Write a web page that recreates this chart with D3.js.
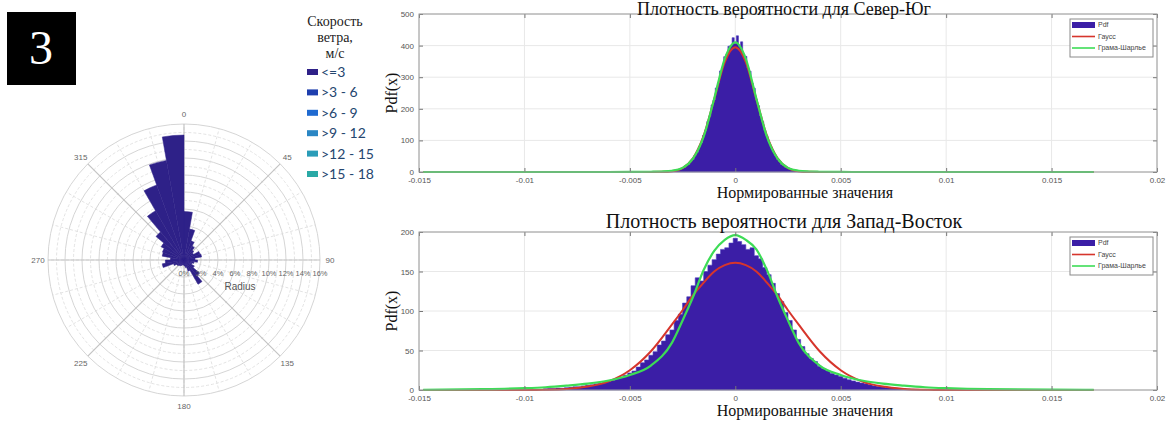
<!DOCTYPE html>
<html lang="ru">
<head>
	<meta charset="utf-8">
	<title>Роза ветров и плотности вероятности</title>
	<script type="text/javascript" src="https://d3js.org/d3.v7.min.js"></script>
	<style type="text/css">
		body { margin: 0; background: #fff; }
	</style>
</head>
<body>
	<script type="text/javascript">
		//Size of the whole picture
		var w = 1168;
		var h = 421;

		//Wind rose: 36 sectors of 10 degrees, share of time in %
		var roseSectors = [0, 10, 20, 30, 40, 50, 60, 70, 80, 90, 100, 110, 120, 130, 140, 150, 160, 170,
			180, 190, 200, 210, 220, 230, 240, 250, 260, 270, 280, 290, 300, 310, 320, 330, 340, 350];
		var roseValues = [5.7, 3.7, 2.4, 1.9, 1.5, 1.3, 2.0, 2.1, 1.3, 1.6, 1.2, 1.0, 1.4, 2.4, 3.3, 1.4, 0.9, 0.7,
			0.6, 0.6, 0.7, 0.8, 0.9, 1.0, 1.3, 2.6, 2.2, 1.6, 2.6, 2.7, 3.1, 4.3, 6.7, 9.4, 11.9, 14.7];
		var roseAngleLabels = [0, 45, 90, 135, 180, 225, 270, 315];
		var roseRadiusTicks = [0, 2, 4, 6, 8, 10, 12, 14, 16];

		//Wind speed legend
		var speedClasses = ["<=3", ">3 - 6", ">6 - 9", ">9 - 12", ">12 - 15", ">15 - 18"];
		var speedColors = ["#2e2188", "#1e3fae", "#1f6ad0", "#2a86c4", "#2a9cb8", "#2aa9a6"];

		//Shared x axis of both density plots
		var xTicks = [-0.015, -0.01, -0.005, 0, 0.005, 0.01, 0.015, 0.02];
		var xTickLabels = ["-0.015", "-0.01", "-0.005", "0", "0.005", "0.01", "0.015", "0.02"];

		//North-South: histogram bins of width 0.0001, centres from -0.0035 to 0.0035
		var nsBinWidth = 0.0001;
		var nsBinCenters = [-0.0035, -0.0034, -0.0033, -0.0032, -0.0031, -0.0030, -0.0029, -0.0028, -0.0027, -0.0026,
			-0.0025, -0.0024, -0.0023, -0.0022, -0.0021, -0.0020, -0.0019, -0.0018, -0.0017, -0.0016,
			-0.0015, -0.0014, -0.0013, -0.0012, -0.0011, -0.0010, -0.0009, -0.0008, -0.0007, -0.0006,
			-0.0005, -0.0004, -0.0003, -0.0002, -0.0001, 0, 0.0001, 0.0002, 0.0003, 0.0004,
			0.0005, 0.0006, 0.0007, 0.0008, 0.0009, 0.0010, 0.0011, 0.0012, 0.0013, 0.0014,
			0.0015, 0.0016, 0.0017, 0.0018, 0.0019, 0.0020, 0.0021, 0.0022, 0.0023, 0.0024,
			0.0025, 0.0026, 0.0027, 0.0028, 0.0029, 0.0030, 0.0031, 0.0032, 0.0033, 0.0034, 0.0035];
		var nsPdf = [0.4, 0.5, 0.9, 1.0, 1.8, 2.1, 3.5, 4.2, 6.8, 7.9,
			11.6, 14.2, 20.5, 24.1, 33.5, 39.8, 53.1, 62.4, 80.2, 92.5,
			116, 131, 160, 176, 212, 228, 266, 282, 320, 331,
			365, 372, 398, 401, 425, 407, 431, 398, 412, 372,
			366, 330, 319, 281, 265, 229, 210, 178, 159, 132,
			115, 93, 79, 63, 52, 40, 33, 24, 20, 14,
			11, 8, 6, 4.4, 3.1, 2.2, 1.5, 1.1, 0.8, 0.5, 0.3];
		var nsCurveX = [-0.0148, -0.01, -0.006, -0.005, -0.004, -0.0035, -0.003, -0.0025, -0.002, -0.0015, -0.001, -0.0005,
			0, 0.0005, 0.001, 0.0015, 0.002, 0.0025, 0.003, 0.0035, 0.004, 0.005, 0.006, 0.01, 0.017];
		var nsGauss = [0, 0, 0, 0, 0.1, 0.45, 2.7, 12.6, 44, 115, 230, 348,
			395, 348, 230, 115, 44, 12.6, 2.7, 0.45, 0.1, 0, 0, 0, 0];
		var nsGram = [0, 0, 0, 0.2, 0.8, 1.6, 4, 13, 43, 112, 232, 358,
			410, 358, 232, 112, 43, 13, 4, 1.6, 0.8, 0.2, 0, 0, 0];
		var nsYTicks = [0, 100, 200, 300, 400, 500];

		//West-East: histogram bins of width 0.0002, centres from -0.009 to 0.009
		var weBinWidth = 0.0002;
		var weBinCenters = [-0.0090, -0.0088, -0.0086, -0.0084, -0.0082, -0.0080, -0.0078, -0.0076, -0.0074, -0.0072,
			-0.0070, -0.0068, -0.0066, -0.0064, -0.0062, -0.0060, -0.0058, -0.0056, -0.0054, -0.0052,
			-0.0050, -0.0048, -0.0046, -0.0044, -0.0042, -0.0040, -0.0038, -0.0036, -0.0034, -0.0032,
			-0.0030, -0.0028, -0.0026, -0.0024, -0.0022, -0.0020, -0.0018, -0.0016, -0.0014, -0.0012,
			-0.0010, -0.0008, -0.0006, -0.0004, -0.0002, 0, 0.0002, 0.0004, 0.0006, 0.0008,
			0.0010, 0.0012, 0.0014, 0.0016, 0.0018, 0.0020, 0.0022, 0.0024, 0.0026, 0.0028,
			0.0030, 0.0032, 0.0034, 0.0036, 0.0038, 0.0040, 0.0042, 0.0044, 0.0046, 0.0048,
			0.0050, 0.0052, 0.0054, 0.0056, 0.0058, 0.0060, 0.0062, 0.0064, 0.0066, 0.0068,
			0.0070, 0.0072, 0.0074, 0.0076, 0.0078, 0.0080, 0.0082, 0.0084, 0.0086, 0.0088, 0.0090];
		var wePdf = [1.5, 1.8, 2.0, 2.4, 2.2, 3.0, 3.4, 4.1, 4.0, 5.2,
			6.0, 6.5, 7.8, 8.2, 9.5, 10.8, 12.5, 14.0, 16.2, 18.8,
			21.5, 24.0, 29.0, 34.5, 38.0, 44.0, 48.5, 57.0, 62.0, 70.0,
			76.0, 88.0, 96.0, 110, 118, 132, 142, 138, 150, 158,
			165, 172, 178, 180, 186, 192, 188, 184, 178, 180,
			170, 166, 155, 146, 135, 122, 112, 98, 88, 76,
			64, 55, 46, 40, 36, 30, 27, 24, 21, 19,
			17, 15, 13, 11.5, 10, 8.8, 7.8, 6.5, 5.2, 4.5,
			3.8, 3.0, 2.6, 2.2, 1.8, 1.5, 1.2, 1.0, 0.8, 0.6, 0.5];
		var weCurveX = [-0.0148, -0.012, -0.01, -0.009, -0.008, -0.007, -0.006, -0.005, -0.004, -0.003, -0.0025, -0.002,
			-0.0015, -0.001, -0.0005, 0, 0.0005, 0.001, 0.0015, 0.002, 0.0025, 0.003, 0.004, 0.005,
			0.006, 0.007, 0.008, 0.009, 0.01, 0.012, 0.017];
		var weGauss = [0, 0, 0.1, 0.4, 1.4, 4.3, 11, 25, 49, 83, 101, 120,
			136, 150, 158, 161, 158, 150, 136, 120, 101, 83, 49, 25,
			11, 4.3, 1.4, 0.4, 0.1, 0, 0];
		var weGram = [0.3, 1, 2.3, 3.5, 5.5, 8, 12, 19, 31, 60, 88, 118,
			152, 176, 190, 196, 190, 178, 152, 118, 88, 60, 31, 19,
			12, 8, 5.5, 3.5, 2.3, 1, 0.3];
		var weYTicks = [0, 50, 100, 150, 200];

		var legendNames = ["Pdf", "Гаусс", "Грама-Шарлье"];

		var pdfColor = "#3b1ea6";
		var gaussColor = "#d6352c";
		var gramColor = "#3ddc56";

		var svg = d3.select("body")
			.append("svg")
			.attr("width", w)
			.attr("height", h)
			.style("display", "block");

		svg.append("rect").attr("width", w).attr("height", h).attr("fill", "#fff");

		//Black panel with the figure number
		svg.append("rect")
			.attr("x", 7).attr("y", 12)
			.attr("width", 69).attr("height", 73)
			.attr("fill", "#000");
		svg.append("text")
			.attr("x", 41).attr("y", 64)
			.attr("text-anchor", "middle")
			.attr("font-family", "Liberation Serif, serif")
			.attr("font-size", "48px")
			.attr("fill", "#fff")
			.text("3");

		// ---------- wind rose ----------
		var cx = 184, cy = 260;
		var rScale = d3.scaleLinear().domain([0, 16]).range([0, 136]);
		var rose = svg.append("g").attr("transform", "translate(" + cx + "," + cy + ")");

		//minor rings (dashed) every 1%, major rings every 2%
		rose.selectAll(".minorRing")
			.data(d3.range(1, 16, 2))
			.enter()
			.append("circle")
			.attr("r", function(d) { return rScale(d); })
			.attr("fill", "none")
			.attr("stroke", "#dcdcdc")
			.attr("stroke-dasharray", "3,2")
			.attr("stroke-width", 0.8);
		rose.selectAll(".majorRing")
			.data(roseRadiusTicks.slice(1))
			.enter()
			.append("circle")
			.attr("r", function(d) { return rScale(d); })
			.attr("fill", "none")
			.attr("stroke", "#d0d0d0")
			.attr("stroke-width", 0.9);

		//spokes: dashed every 15 degrees, solid every 45 degrees
		rose.selectAll(".minorSpoke")
			.data(d3.range(0, 360, 15))
			.enter()
			.append("line")
			.attr("x1", 0).attr("y1", 0)
			.attr("x2", function(d) { return rScale(16) * Math.sin(d * Math.PI / 180); })
			.attr("y2", function(d) { return -rScale(16) * Math.cos(d * Math.PI / 180); })
			.attr("stroke", "#dcdcdc")
			.attr("stroke-dasharray", "3,2")
			.attr("stroke-width", 0.8);
		rose.selectAll(".majorSpoke")
			.data(roseAngleLabels)
			.enter()
			.append("line")
			.attr("x1", 0).attr("y1", 0)
			.attr("x2", function(d) { return rScale(16) * Math.sin(d * Math.PI / 180); })
			.attr("y2", function(d) { return -rScale(16) * Math.cos(d * Math.PI / 180); })
			.attr("stroke", "#c4c4c4")
			.attr("stroke-width", 1.2);

		//the petals
		var petal = d3.arc()
			.innerRadius(0)
			.outerRadius(function(d) { return rScale(d.v); })
			.startAngle(function(d) { return d.a * Math.PI / 180; })
			.endAngle(function(d) { return (d.a + 10) * Math.PI / 180; });
		rose.selectAll(".petal")
			.data(roseSectors.map(function(a, i) { return { a: a, v: roseValues[i] }; }))
			.enter()
			.append("path")
			.attr("d", petal)
			.attr("fill", speedColors[0])
			.attr("stroke", speedColors[0])
			.attr("stroke-width", 0.5);

		//angle labels
		rose.selectAll(".angleLabel")
			.data(roseAngleLabels)
			.enter()
			.append("text")
			.attr("x", function(d) { return 146 * Math.sin(d * Math.PI / 180); })
			.attr("y", function(d) { return -146 * Math.cos(d * Math.PI / 180); })
			.attr("dy", "0.35em")
			.attr("text-anchor", "middle")
			.attr("font-family", "Liberation Sans, sans-serif")
			.attr("font-size", "8px")
			.attr("fill", "#666")
			.text(function(d) { return d; });

		//radius labels along the east spoke
		rose.selectAll(".radiusLabel")
			.data(roseRadiusTicks)
			.enter()
			.append("text")
			.attr("x", function(d) { return rScale(d); })
			.attr("y", 16)
			.attr("text-anchor", "middle")
			.attr("font-family", "Liberation Sans, sans-serif")
			.attr("font-size", "7.5px")
			.attr("fill", "#666")
			.text(function(d) { return d + "%"; });
		rose.append("text")
			.attr("x", 56).attr("y", 30)
			.attr("text-anchor", "middle")
			.attr("font-family", "Liberation Sans, sans-serif")
			.attr("font-size", "10px")
			.attr("fill", "#555")
			.text("Radius");

		//wind speed legend
		var speedTitle = ["Скорость", "ветра,", "м/с"];
		svg.selectAll(".speedTitle")
			.data(speedTitle)
			.enter()
			.append("text")
			.attr("x", 335)
			.attr("y", function(d, i) { return 26 + i * 16; })
			.attr("text-anchor", "middle")
			.attr("font-family", "Liberation Serif, serif")
			.attr("font-size", "14px")
			.attr("fill", "#222")
			.text(function(d) { return d; });
		var speedLegend = svg.selectAll(".speedItem")
			.data(speedClasses)
			.enter()
			.append("g")
			.attr("transform", function(d, i) { return "translate(307," + (72 + i * 20.4) + ")"; });
		speedLegend.append("rect")
			.attr("x", 0).attr("y", -3)
			.attr("width", 11).attr("height", 6)
			.attr("fill", function(d, i) { return speedColors[i]; });
		speedLegend.append("text")
			.attr("x", 14).attr("y", 0)
			.attr("dy", "0.35em")
			.attr("font-family", "Lato, sans-serif")
			.attr("font-size", "14px")
			.attr("fill", "#24466f")
			.text(function(d) { return d; });

		// ---------- density plots ----------
		var x = d3.scaleLinear().domain([-0.015, 0.02]).range([419, 1157]);

		function densityPlot(cfg) {
			var y = d3.scaleLinear().domain([cfg.yTicks[0], cfg.yTicks[cfg.yTicks.length - 1]]).range([cfg.bottom, cfg.top]);
			var g = svg.append("g");

			//grid
			g.selectAll(".vgrid")
				.data(xTicks)
				.enter()
				.append("line")
				.attr("x1", function(d) { return x(d); })
				.attr("x2", function(d) { return x(d); })
				.attr("y1", cfg.top).attr("y2", cfg.bottom)
				.attr("stroke", "#e8e8e8");
			g.selectAll(".hgrid")
				.data(cfg.yTicks)
				.enter()
				.append("line")
				.attr("x1", x.range()[0]).attr("x2", x.range()[1])
				.attr("y1", function(d) { return y(d); })
				.attr("y2", function(d) { return y(d); })
				.attr("stroke", "#e8e8e8");

			//histogram as one stepped area so that neighbouring bins don't leave seams
			var steps = cfg.centers.map(function(c, i) { return [c - cfg.binWidth / 2, cfg.pdf[i]]; });
			var last = cfg.centers.length - 1;
			steps.push([cfg.centers[last] + cfg.binWidth / 2, cfg.pdf[last]]);
			var hist = d3.area()
				.x(function(d) { return x(d[0]); })
				.y0(y(0))
				.y1(function(d) { return y(d[1]); })
				.curve(d3.curveStepAfter);
			g.append("path")
				.attr("d", hist(steps))
				.attr("fill", pdfColor)
				.attr("stroke", "#4a3cc0")
				.attr("stroke-width", 0.6);

			//fitted curves
			var line = d3.line()
				.x(function(d) { return x(d[0]); })
				.y(function(d) { return y(d[1]); })
				.curve(d3.curveMonotoneX);
			g.append("path")
				.attr("d", line(cfg.curveX.map(function(v, i) { return [v, cfg.gauss[i]]; })))
				.attr("fill", "none")
				.attr("stroke", gaussColor)
				.attr("stroke-width", 2);
			g.append("path")
				.attr("d", line(cfg.curveX.map(function(v, i) { return [v, cfg.gram[i]]; })))
				.attr("fill", "none")
				.attr("stroke", gramColor)
				.attr("stroke-width", 2.2);

			//axes with inner ticks on all four sides
			var axB = d3.axisBottom(x).tickValues(xTicks)
				.tickFormat(function(d, i) { return xTickLabels[i]; })
				.tickSizeInner(-4).tickSizeOuter(0).tickPadding(5);
			var axT = d3.axisTop(x).tickValues(xTicks).tickFormat("")
				.tickSizeInner(-4).tickSizeOuter(0);
			var axL = d3.axisLeft(y).tickValues(cfg.yTicks)
				.tickSizeInner(-4).tickSizeOuter(0).tickPadding(5);
			var axR = d3.axisRight(y).tickValues(cfg.yTicks).tickFormat("")
				.tickSizeInner(-4).tickSizeOuter(0);
			var gB = g.append("g").attr("transform", "translate(0," + cfg.bottom + ")").call(axB);
			var gT = g.append("g").attr("transform", "translate(0," + cfg.top + ")").call(axT);
			var gL = g.append("g").attr("transform", "translate(" + x.range()[0] + ",0)").call(axL);
			var gR = g.append("g").attr("transform", "translate(" + x.range()[1] + ",0)").call(axR);
			[gB, gT, gL, gR].forEach(function(a) {
				a.select(".domain").remove();
				a.selectAll("line").attr("stroke", "#777");
				a.selectAll("text")
					.attr("font-family", "Liberation Sans, sans-serif")
					.attr("font-size", "8px")
					.attr("fill", "#555");
			});

			//box
			g.append("rect")
				.attr("x", x.range()[0]).attr("y", cfg.top)
				.attr("width", x.range()[1] - x.range()[0])
				.attr("height", cfg.bottom - cfg.top)
				.attr("fill", "none")
				.attr("stroke", "#9a9a9a");

			//labels and title
			g.append("text")
				.attr("x", 784).attr("y", cfg.titleY)
				.attr("text-anchor", "middle")
				.attr("font-family", "Liberation Serif, serif")
				.attr("font-size", cfg.titleSize)
				.attr("fill", "#111")
				.text(cfg.title);
			g.append("text")
				.attr("x", 805).attr("y", cfg.bottom + 26)
				.attr("text-anchor", "middle")
				.attr("font-family", "Liberation Serif, serif")
				.attr("font-size", "16px")
				.attr("fill", "#111")
				.text("Нормированные значения");
			g.append("text")
				.attr("transform", "translate(397," + ((cfg.top + cfg.bottom) / 2) + ") rotate(-90)")
				.attr("text-anchor", "middle")
				.attr("font-family", "Liberation Serif, serif")
				.attr("font-size", "16px")
				.attr("fill", "#111")
				.text("Pdf(x)");

			//legend
			var lg = g.append("g").attr("transform", "translate(1070," + (cfg.top + 5) + ")");
			lg.append("rect")
				.attr("width", 83).attr("height", 38)
				.attr("fill", "#fff")
				.attr("stroke", "#8a8a8a");
			lg.append("rect")
				.attr("x", 2).attr("y", 3)
				.attr("width", 23).attr("height", 6)
				.attr("fill", pdfColor);
			[gaussColor, gramColor].forEach(function(c, i) {
				lg.append("line")
					.attr("x1", 2).attr("x2", 25)
					.attr("y1", 17.5 + i * 11.5).attr("y2", 17.5 + i * 11.5)
					.attr("stroke", c)
					.attr("stroke-width", 1.6);
			});
			lg.selectAll(".lgText")
				.data(legendNames)
				.enter()
				.append("text")
				.attr("x", 28)
				.attr("y", function(d, i) { return 6 + i * 11.5; })
				.attr("dy", "0.35em")
				.attr("font-family", "Liberation Sans, sans-serif")
				.attr("font-size", "7px")
				.attr("fill", "#444")
				.text(function(d) { return d; });
		}

		densityPlot({
			title: "Плотность вероятности для Север-Юг",
			titleY: 14.5, titleSize: "18px", top: 14, bottom: 172,
			yTicks: nsYTicks,
			centers: nsBinCenters, binWidth: nsBinWidth, pdf: nsPdf,
			curveX: nsCurveX, gauss: nsGauss, gram: nsGram
		});
		densityPlot({
			title: "Плотность вероятности для Запад-Восток",
			titleY: 228, titleSize: "20px", top: 232, bottom: 390,
			yTicks: weYTicks,
			centers: weBinCenters, binWidth: weBinWidth, pdf: wePdf,
			curveX: weCurveX, gauss: weGauss, gram: weGram
		});
	</script>
</body>
</html>
